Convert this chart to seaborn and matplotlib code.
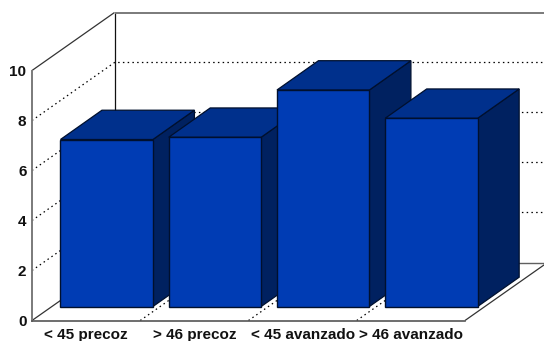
import matplotlib
matplotlib.use("Agg")
import matplotlib.pyplot as plt
import seaborn as sns
import pandas as pd
from matplotlib.patches import Polygon

categories = ["< 45 precoz", "> 46 precoz", "< 45 avanzado", "> 46 avanzado"]
values = [6.68, 6.77, 8.66, 7.53]
y_ticks = [0, 2, 4, 6, 8, 10]

FRONT = "#003CB4"
TOP = "#00308C"
SIDE = "#002160"
EDGE = "#00102E"
GRID = "#000000"

# Oblique projection of the box: full floor depth and the plane holding the bars
DEPTH_X = 82.5 / 108.25
DEPTH_Y = 58 / 25
BAR_SHIFT_X = 0.19
BAR_SHIFT_Y = 0.56
BAR_DEPTH_X = 41.5 / 108.25
BAR_DEPTH_Y = 29.3 / 25
BAR_WIDTH = 0.854

sns.set_theme(style="white")
plt.rcParams["font.family"] = ["Liberation Sans", "DejaVu Sans"]

fig = plt.figure(figsize=(5.44, 3.41), dpi=100)
ax = fig.add_axes([32 / 544, 20.5 / 341, 433 / 544, 250 / 341])
df = pd.DataFrame({"grupo": categories, "valor": values})
sns.barplot(data=df, x="grupo", y="valor", color=FRONT, saturation=1,
            width=BAR_WIDTH, edgecolor=EDGE, linewidth=1.0, ax=ax, zorder=5)

ax.set_xlim(-0.5, 3.5)
ax.set_ylim(0, 10)
ax.set_xlabel("")
ax.set_ylabel("")
ax.set_yticks(y_ticks)
ax.set_yticklabels([str(t) for t in y_ticks])
ax.patch.set_alpha(0)
ax.tick_params(axis="x", length=0, pad=5.5, labelsize=11)
ax.tick_params(axis="y", length=0, pad=4.0, labelsize=11)
for lab in ax.get_xticklabels() + ax.get_yticklabels():
    lab.set_fontweight("bold")
    lab.set_color("#111111")

# Walls of the box
x0, x1 = -0.5, 3.5
wall = dict(clip_on=False, zorder=2, solid_capstyle="butt")
ax.plot([x0, x0 + DEPTH_X], [10, 10 + DEPTH_Y], color="#333333", lw=0.9, **wall)
ax.plot([x0 + DEPTH_X] * 2, [DEPTH_Y, 10 + DEPTH_Y], color="#111111", lw=0.9, **wall)
ax.plot([x0 + DEPTH_X, x1 + DEPTH_X], [10 + DEPTH_Y] * 2, color="#707070", lw=1.3, **wall)
ax.plot([x0 + DEPTH_X, x1 + DEPTH_X], [DEPTH_Y] * 2, color="#606060", lw=1.0, **wall)
ax.plot([x0, x0 + DEPTH_X], [0, DEPTH_Y], color="#333333", lw=0.9, **wall)
ax.plot([x1, x1 + DEPTH_X], [0, DEPTH_Y], color="#333333", lw=0.9, **wall)

# Dotted grid on the side and back walls, and floor dividers between groups
dots = dict(color=GRID, lw=0.9, ls=(0, (1.2, 2.6)), clip_on=False, zorder=1)
for t in y_ticks[1:-1]:
    ax.plot([x0, x0 + DEPTH_X, x1 + DEPTH_X],
            [t, t + DEPTH_Y, t + DEPTH_Y], **dots)
for i in range(1, 4):
    ax.plot([x0 + i, x0 + i + DEPTH_X], [0, DEPTH_Y], **dots)

# Move the bars back onto their plane and add the top and side faces
for i, patch in enumerate(ax.patches):
    patch.set_x(patch.get_x() + BAR_SHIFT_X)
    patch.set_y(BAR_SHIFT_Y)
    patch.set_zorder(12 + 3 * i)
    patch.set_clip_on(False)
    left, right = patch.get_x(), patch.get_x() + patch.get_width()
    bottom, top = patch.get_y(), patch.get_y() + patch.get_height()
    dx, dy = BAR_DEPTH_X, BAR_DEPTH_Y
    ax.add_patch(Polygon([(right, bottom), (right + dx, bottom + dy),
                          (right + dx, top + dy), (right, top)],
                         facecolor=SIDE, edgecolor=EDGE, lw=0.9,
                         zorder=10 + 3 * i, clip_on=False))
    ax.add_patch(Polygon([(left, top), (left + dx, top + dy),
                          (right + dx, top + dy), (right, top)],
                         facecolor=TOP, edgecolor=EDGE, lw=0.9,
                         zorder=11 + 3 * i, clip_on=False))

for side in ["top", "right"]:
    ax.spines[side].set_visible(False)
ax.spines["left"].set_color("#7a7a7a")
ax.spines["left"].set_linewidth(1.4)
ax.spines["bottom"].set_color("#555555")
ax.spines["bottom"].set_linewidth(1.2)
ax.spines["left"].set_zorder(3)
ax.spines["bottom"].set_zorder(3)

fig.savefig("out.png", dpi=100)
